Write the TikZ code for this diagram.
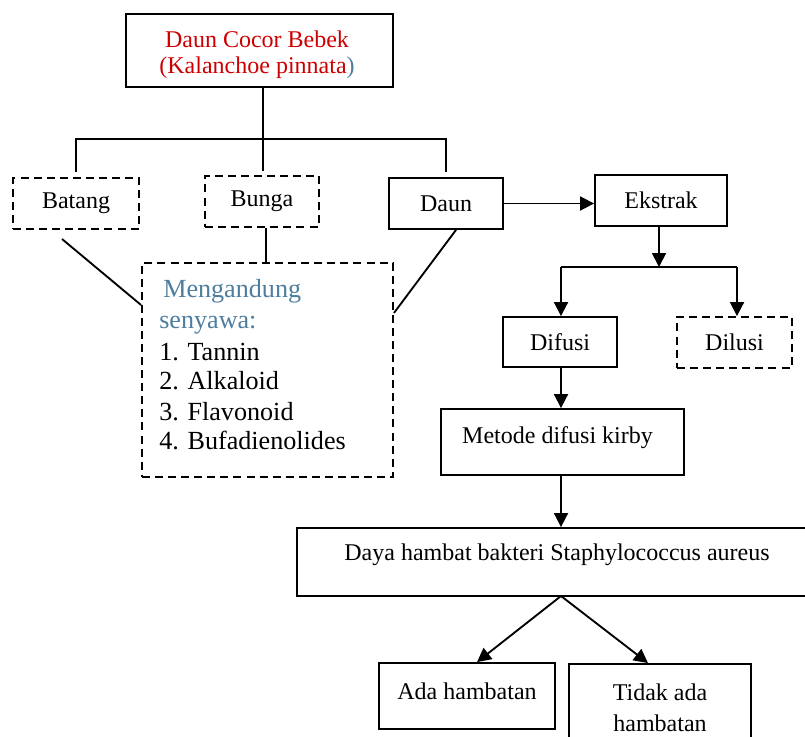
\documentclass[tikz,border=0pt]{standalone}
\usepackage{fontspec}
\setmainfont{Liberation Serif}
\usetikzlibrary{arrows.meta}
\definecolor{cred}{RGB}{204,0,0}
\definecolor{cblue}{RGB}{79,125,158}
\begin{document}
\begin{tikzpicture}[x=0.75pt,y=-0.75pt,
  every node/.style={font=\fontsize{18}{21}\selectfont},
  box/.style={draw,line width=1.4pt,inner sep=0pt,align=center},
  dbox/.style={box,dash pattern=on 6pt off 3.8pt},
  ln/.style={line width=1.4pt},
  arr/.style={line width=1.4pt,-{Triangle[length=10.5pt,width=10.5pt]}},
  lst/.style={anchor=base west,inner sep=0pt,font=\fontsize{19.6}{23}\selectfont}]
\useasboundingbox (0,0) rectangle (805,736);
% boxes
\node[box,minimum width=200.25pt,minimum height=54.75pt] (top) at (259.5,50.5) {};
\node[inner sep=0pt,anchor=base,text=cred] (t1) at (257,47) {Daun Cocor Bebek};
\node[inner sep=0pt,anchor=base,text=cred] (t2) at (257,73.3) {(Kalanchoe pinnata\textcolor{cblue}{)}};
\node[dbox,minimum width=94.5pt,minimum height=38.25pt] (batang) at (76,203.5) {Batang};
\node[dbox,minimum width=85.5pt,minimum height=38.25pt] (bunga) at (262,201.5) {Bunga};
\node[box,minimum width=85.5pt,minimum height=38.25pt] (daun) at (446,203.5) {Daun};
\node[box,minimum width=99pt,minimum height=38.25pt] (ekstrak) at (661,200.5) {Ekstrak};
\node[box,minimum width=85.5pt,minimum height=37.5pt] (difusi) at (560,342) {Difusi};
\node[dbox,minimum width=86.25pt,minimum height=38.25pt] (dilusi) at (734.5,342.5) {Dilusi};
\node[box,minimum width=182.25pt,minimum height=49.5pt] (metode) at (562.5,442) {};
\node[inner sep=0pt,anchor=base] (metodet) at (557.5,443) {Metode difusi kirby};
\node[box,minimum width=386.25pt,minimum height=51pt] (daya) at (554.5,562) {};
\node[inner sep=0pt,anchor=base] (dayat) at (557,560) {Daya hambat bakteri Staphylococcus aureus};
\node[box,minimum width=132pt,minimum height=49.5pt] (ada) at (467,696) {};
\node[inner sep=0pt,anchor=base] (adat) at (467,699) {Ada hambatan};
\node[box,minimum width=136.5pt,minimum height=79.5pt] (tidak) at (660,717) {};
\node[inner sep=0pt,anchor=base] (tidak1) at (660,700) {Tidak ada};
\node[inner sep=0pt,anchor=base] (tidak2) at (660,731) {hambatan};
% big dashed box
\node[dbox,minimum width=188.25pt,minimum height=160.5pt] (big) at (267.5,370) {};
\node[lst,text=cblue] (l1) at (163,297) {Mengandung};
\node[lst,text=cblue] (l2) at (159,328) {senyawa:};
\node[lst] (l3) at (159,360) {1. Tannin};
\node[lst] (l4) at (159,389) {2. Alkaloid};
\node[lst] (l5) at (159,420) {3. Flavonoid};
\node[lst] (l6) at (159,449) {4. Bufadienolides};
% tree connectors
\coordinate (bj) at (263,139);
\draw[ln] (bj |- top.south) -- (bj);
\draw[ln] ([yshift=4pt]batang.north) -- (batang.north |- bj) -- (daun.north |- bj) -- ([yshift=3.5pt]daun.north);
\draw[ln] (bj) -- ([yshift=3pt]bj |- bunga.north);
\coordinate (bb) at (266,245);
\draw[ln] (bb |- bunga.south) -- (bb |- big.north);
\coordinate (blA) at (62,239);
\coordinate (blB) at (0,305);
\draw[ln] (blA) -- (big.west |- blB);
\coordinate (drB) at (0,313);
\draw[ln] ([xshift=7.5pt]daun.south) -- (big.east |- drB);
% right side
\draw[arr] (daun.east) -- (daun.east -| ekstrak.west);
\coordinate (ej) at (659,267);
\draw[arr] (ej |- ekstrak.south) -- (ej);
\coordinate (bl2) at (561,267);
\coordinate (br2) at (737,267);
\draw[ln] (bl2) -- (br2);
\draw[arr] (bl2) -- (bl2 |- difusi.north);
\draw[arr] (br2) -- (br2 |- dilusi.north);
\draw[arr] (bl2 |- difusi.south) -- (bl2 |- metode.north);
\draw[arr] (bl2 |- metode.south) -- (bl2 |- daya.north);
\coordinate (dp) at (561,596);
\draw[arr] (dp) -- ([xshift=7.5pt]ada.north);
\draw[arr] (dp) -- ([xshift=-9pt]tidak.north);
\end{tikzpicture}
\end{document}
